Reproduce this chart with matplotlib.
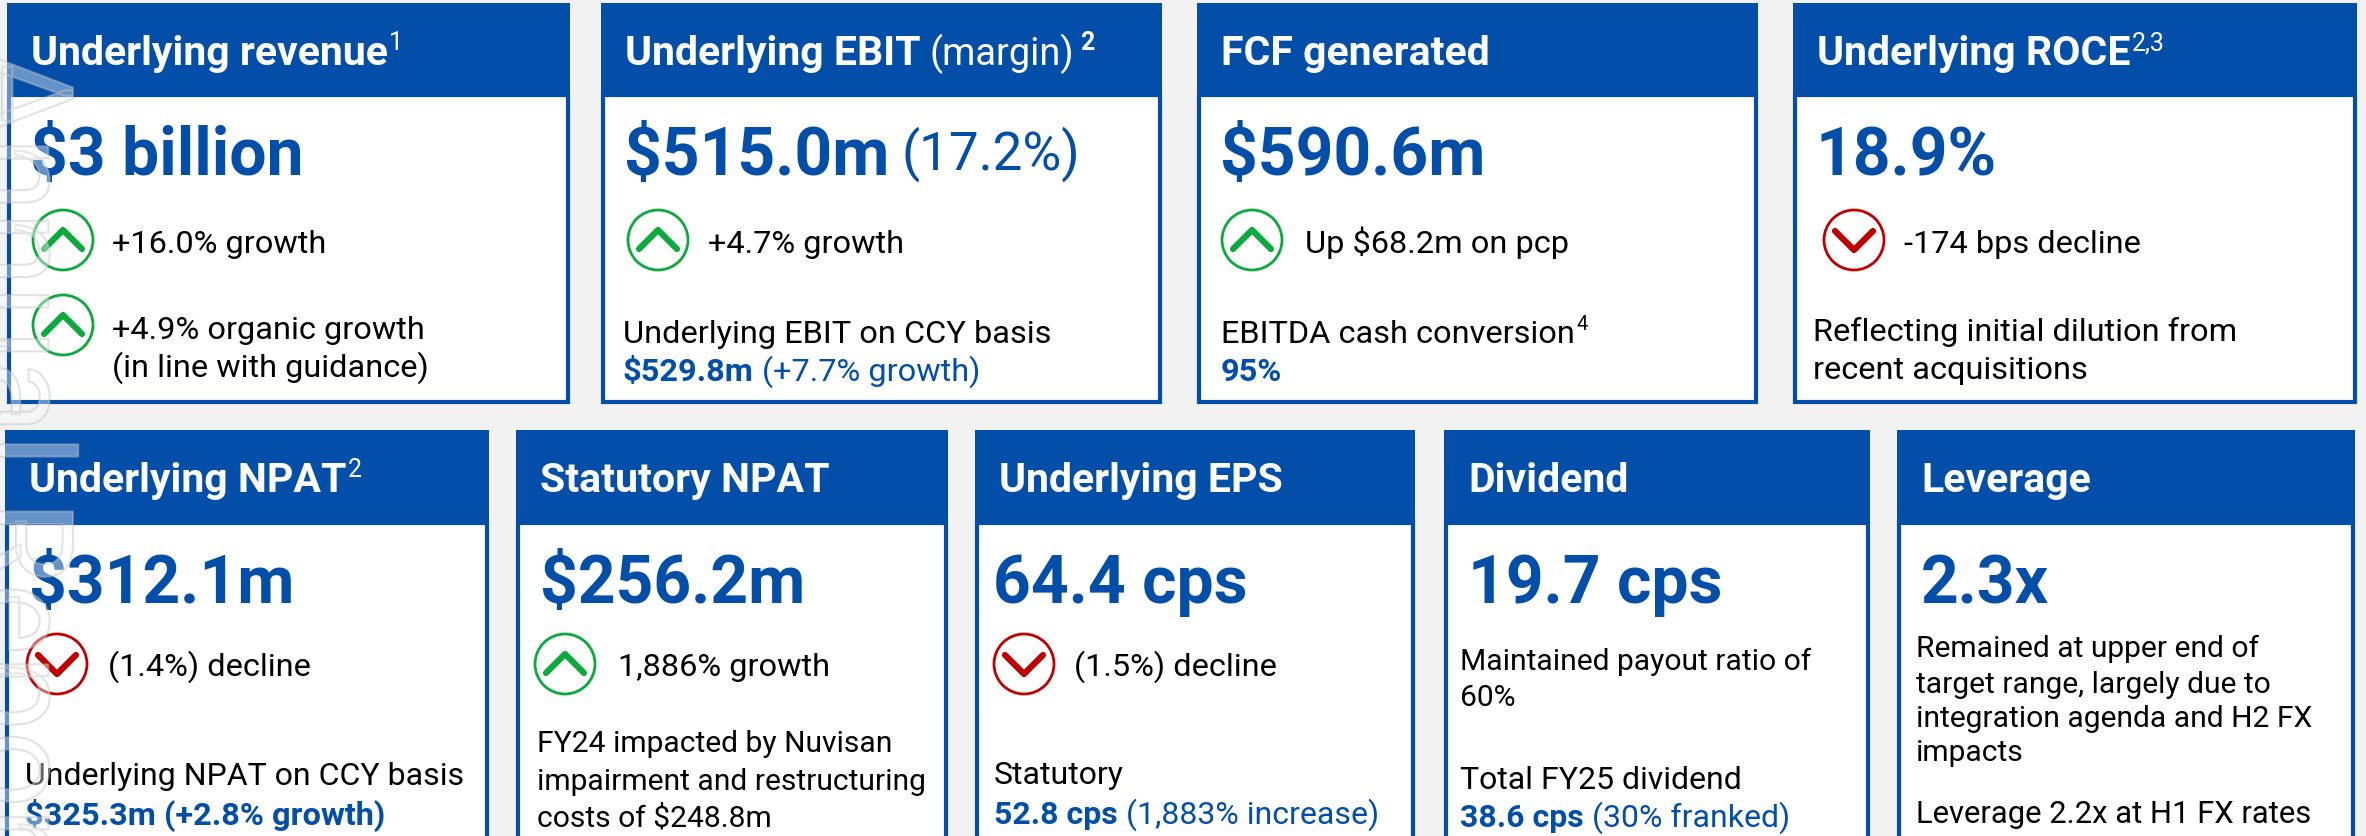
import matplotlib
matplotlib.use("Agg")
import matplotlib.pyplot as plt
import matplotlib.patheffects as pe
from matplotlib.patches import Rectangle, Ellipse

plt.rcParams["font.family"] = ["Roboto", "DejaVu Sans"]

BLUE = "#034EA9"
GREEN = "#0BAA3C"
RED = "#C00000"
BG = "#F2F2F2"

# カード: 見出し, 数値, x0, x1
row1_titles = ["Underlying revenue", "Underlying EBIT", "FCF generated", "Underlying ROCE"]
row1_sups = ["1", "", "", "2,3"]
row1_values = ["$3 billion", "$515.0m", "$590.6m", "18.9%"]
row1_x = [(7, 570), (601, 1162), (1197, 1758), (1793, 2357)]

row2_titles = ["Underlying NPAT", "Statutory NPAT", "Underlying EPS", "Dividend", "Leverage"]
row2_sups = ["2", "", "", "", ""]
row2_values = ["$312.1m", "$256.2m", "64.4 cps", "19.7 cps", "2.3x"]
row2_x = [(5, 489), (516, 948), (975, 1415), (1444, 1870), (1897, 2355)]
row2_value_dx = [24, 24, 18, 24, 24]

fig = plt.figure(figsize=(23.66, 8.37), dpi=100, facecolor=BG)
ax = fig.add_axes([0, 0, 1, 1])
ax.set_xlim(0, 2366)
ax.set_ylim(837, 0)
ax.axis("off")
renderer = fig.canvas.get_renderer()


def px(s):
    return s * 0.72


def run(x, y, parts, size=32.5):
    # 同じ行に色や太さの違う文字を続けて置く
    for s, color, weight in parts:
        t = ax.text(x, y, s, color=color, fontsize=px(size), fontweight=weight, va="baseline")
        x = t.get_window_extent(renderer).x1 + size * 0.25
    return x


def card(x0, x1, top, head, bottom, title, sup, value, tx, vx):
    ax.add_patch(Rectangle((x0 + 2, head), x1 - x0 - 4, bottom - head - 2, fc="white", ec=BLUE, lw=3))
    ax.add_patch(Rectangle((x0, top), x1 - x0, head - top, fc=BLUE, ec="none"))
    base = top + 61
    t = ax.text(tx, base, title, color="white", fontsize=px(41), fontweight="bold", va="baseline")
    if sup:
        bb = t.get_window_extent(renderer)
        ax.text(bb.x1 + 1, base - 15, sup, color="white", fontsize=px(25), va="baseline")
    ax.text(vx, head + 79, value, color=BLUE, fontsize=px(66), fontweight="bold", va="baseline")


def arrow(x, y, up=True):
    c = GREEN if up else RED
    ax.add_patch(Ellipse((x, y), 60, 60, fc="none", ec=c, lw=2))
    d = -1 if up else 1
    ax.plot([x - 19, x, x + 19], [y - d * 9, y + d * 10, y - d * 9], color=c, lw=4.5,
            solid_capstyle="round", solid_joinstyle="round")


def body(x, y, s, color="black", weight="normal", size=32.5):
    return ax.text(x, y + 11, s, color=color, fontsize=px(size), fontweight=weight, va="baseline")


for (x0, x1), ti, su, v in zip(row1_x, row1_titles, row1_sups, row1_values):
    card(x0, x1, 4, 96, 405, ti, su, v, x0 + 24, x0 + 23)
for (x0, x1), ti, su, v, dx in zip(row2_x, row2_titles, row2_sups, row2_values, row2_value_dx):
    card(x0, x1, 431, 524, 860, ti, su, v, x0 + 24, x0 + dx)

# 1段目
ax.text(930, 65, "(margin)", color="white", fontsize=px(38), va="baseline")
ax.text(1080, 50, "2", color="white", fontsize=px(25), fontweight="bold", va="baseline")
ax.text(902, 170, "(17.2%)", color=BLUE, fontsize=px(53), va="baseline")
arrow(63, 241)
body(112, 242, "+16.0% growth")
arrow(63, 326)
body(112, 328, "+4.9% organic growth")
body(112, 366, "(in line with guidance)")

arrow(658, 241)
body(708, 242, "+4.7% growth")
body(623, 332, "Underlying EBIT on CCY basis")
run(623, 381, [("$529.8m", BLUE, "bold"), ("(+7.7% growth)", BLUE, "normal")])

arrow(1252, 241)
body(1305, 242, "Up $68.2m on pcp")
t = body(1221, 332, "EBITDA cash conversion")
ax.text(t.get_window_extent(renderer).x1 + 2, 330, "4", color="black", fontsize=px(20), va="baseline")
body(1221, 370, "95%", BLUE, "bold")

arrow(1854, 241, up=False)
body(1904, 242, "-174 bps decline")
body(1813, 330, "Reflecting initial dilution from")
body(1813, 368, "recent acquisitions")

# 2段目
arrow(57, 665, up=False)
body(108, 665, "(1.4%) decline")
body(25, 774, "Underlying NPAT on CCY basis", size=32)
body(25, 814, "$325.3m (+2.8% growth)", BLUE, "bold")

arrow(565, 665)
body(618, 665, "1,886% growth")
body(537, 741, "FY24 impacted by Nuvisan", size=30)
body(537, 779, "impairment and restructuring", size=30)
body(537, 816, "costs of $248.8m", size=30)

arrow(1024, 665, up=False)
body(1074, 665, "(1.5%) decline")
body(994, 773, "Statutory", size=32)
run(994, 824, [("52.8 cps", BLUE, "bold"), ("(1,883% increase)", BLUE, "normal")], size=32)

body(1460, 659, "Maintained payout ratio of", size=30)
body(1460, 695, "60%", size=30)
body(1460, 778, "Total FY25 dividend", size=32)
run(1460, 827, [("38.6 cps", BLUE, "bold"), ("(30% franked)", BLUE, "normal")], size=32)

body(1916, 646, "Remained at upper end of", size=30)
body(1916, 682, "target range, largely due to", size=30)
body(1916, 716, "integration agenda and H2 FX", size=30)
body(1916, 750, "impacts", size=30)
body(1916, 812, "Leverage 2.2x at H1 FX rates", size=31)

# 左端の透かし文字
wm = ax.text(14, 50, "Annual Report", color=(1, 1, 1, 0.22), fontsize=px(135), rotation=270,
             ha="center", va="top", zorder=5, clip_on=False)
wm.set_path_effects([pe.Stroke(linewidth=1.5, foreground=(0.72, 0.72, 0.72, 0.45)), pe.Normal()])

fig.savefig("out.png", dpi=100, facecolor=BG)
